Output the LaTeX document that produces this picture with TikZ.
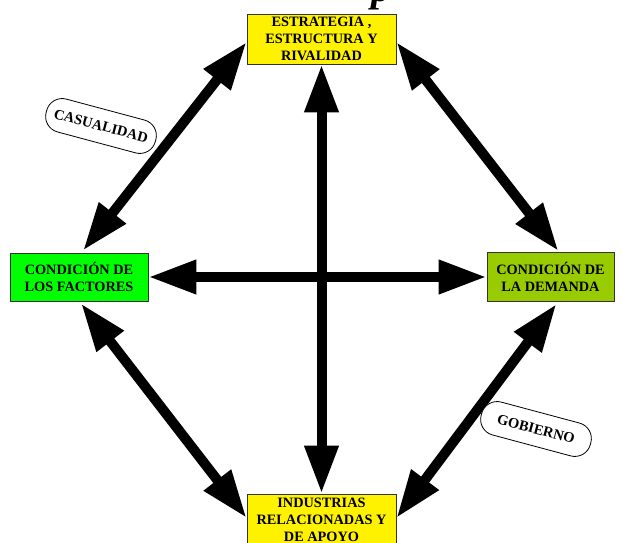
\documentclass[tikz,border=0pt]{standalone}
\usepackage{fontspec}
\setmainfont{Liberation Serif}
\usetikzlibrary{arrows.meta,calc}
\definecolor{demanda}{HTML}{99CC00}
\begin{document}
\begin{tikzpicture}[x=1pt,y=-1pt,
  box/.style={draw=black!80, line width=0.8pt, minimum width=149pt, minimum height=50pt,
    align=center, inner sep=0pt, font=\fontsize{14.3}{17}\selectfont\bfseries},
  link/.style={line width=10pt,
    {Triangle[length=48pt,width=32pt]}-{Triangle[length=48pt,width=32pt]}},
  tag/.style={draw, line width=0.8pt, rounded corners=16pt, minimum width=113pt,
    minimum height=34pt, inner sep=0pt, rotate=-15,
    font=\fontsize{14.5}{16}\selectfont\bfseries}
]
\useasboundingbox (0,0) rectangle (622,543);

% heading (only its lower edge falls inside the page)
\node[anchor=base, font=\fontsize{40}{44}\selectfont\bfseries\itshape] (title) at (381,2) {p};

% the four corners of the diamond
\node[box, fill=yellow] (E) at (321.5,39) {ESTRATEGIA ,\\ESTRUCTURA Y\\RIVALIDAD};
\node[box, fill=green, minimum width=138pt, minimum height=48pt] (F) at (79,277)
  {CONDICIÓN DE\\LOS FACTORES};
\node[box, fill=demanda, minimum width=127pt, minimum height=49pt] (D) at (550.5,277)
  {CONDICIÓN DE\\LA DEMANDA};
\node[box, fill=yellow, minimum height=52pt] (I) at (321.5,520)
  {INDUSTRIAS\\RELACIONADAS Y\\DE APOYO};

% links between the corners
\draw[link] ($(E.west)+(0,3)$) -- ($(F.north)+(4,-2)$);
\draw[link] ($(E.east)+(0,3)$) -- ($(D.north)+(8,-1)$);
\draw[link] ($(F.south)+(2,2)$) -- ($(I.west)+(0,-2)$);
\draw[link] ($(D.south)+(6,2)$) -- ($(I.east)+(0,-2)$);
\draw[link] (E.south) -- (I.north);
\draw[link] (F.east) -- (D.west);

% labels
\node[tag, fill=white] (cas) at (101,126) {CASUALIDAD};
\node[tag, fill=white] (gob) at (536,429) {GOBIERNO};
\end{tikzpicture}
\end{document}
